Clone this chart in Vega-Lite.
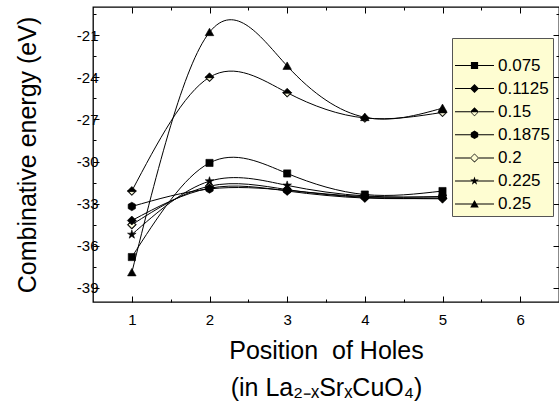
{
  "$schema": "https://vega.github.io/schema/vega-lite/v6.json",
  "width": 466,
  "height": 295,
  "autosize": "none",
  "padding": {"left": 93, "top": 7, "right": 0, "bottom": 105},
  "background": "white",
  "config": {
    "view": {"stroke": "black", "strokeWidth": 1.3},
    "axis": {
      "grid": false,
      "domain": false,
      "tickColor": "black",
      "tickWidth": 1,
      "labelFont": "Liberation Sans",
      "labelFontSize": 15,
      "labelColor": "black",
      "titleFont": "Liberation Sans",
      "titleFontSize": 25,
      "titleFontWeight": "normal",
      "titleColor": "black"
    }
  },
  "data": {
    "values": [
      {"series": "0.075", "pos": 1, "energy": -36.8},
      {"series": "0.075", "pos": 2, "energy": -30.1},
      {"series": "0.075", "pos": 3, "energy": -30.85},
      {"series": "0.075", "pos": 4, "energy": -32.35},
      {"series": "0.075", "pos": 5, "energy": -32.1},
      {"series": "0.1125", "pos": 1, "energy": -34.2},
      {"series": "0.1125", "pos": 2, "energy": -31.9},
      {"series": "0.1125", "pos": 3, "energy": -32.1},
      {"series": "0.1125", "pos": 4, "energy": -32.6},
      {"series": "0.1125", "pos": 5, "energy": -32.6},
      {"series": "0.15", "pos": 1, "energy": -32.1},
      {"series": "0.15", "pos": 2, "energy": -24.0},
      {"series": "0.15", "pos": 3, "energy": -25.1},
      {"series": "0.15", "pos": 4, "energy": -26.9},
      {"series": "0.15", "pos": 5, "energy": -26.5},
      {"series": "0.1875", "pos": 1, "energy": -33.2},
      {"series": "0.1875", "pos": 2, "energy": -31.95},
      {"series": "0.1875", "pos": 3, "energy": -32.05},
      {"series": "0.1875", "pos": 4, "energy": -32.5},
      {"series": "0.1875", "pos": 5, "energy": -32.5},
      {"series": "0.2", "pos": 1, "energy": -34.5},
      {"series": "0.2", "pos": 2, "energy": -31.75},
      {"series": "0.2", "pos": 3, "energy": -32.0},
      {"series": "0.2", "pos": 4, "energy": -32.55},
      {"series": "0.2", "pos": 5, "energy": -32.65},
      {"series": "0.225", "pos": 1, "energy": -35.2},
      {"series": "0.225", "pos": 2, "energy": -31.4},
      {"series": "0.225", "pos": 3, "energy": -31.7},
      {"series": "0.225", "pos": 4, "energy": -32.45},
      {"series": "0.225", "pos": 5, "energy": -32.5},
      {"series": "0.25", "pos": 1, "energy": -37.9},
      {"series": "0.25", "pos": 2, "energy": -20.8},
      {"series": "0.25", "pos": 3, "energy": -23.2},
      {"series": "0.25", "pos": 4, "energy": -26.85},
      {"series": "0.25", "pos": 5, "energy": -26.2}
    ]
  },
  "layer": [
    {
      "mark": {"type": "line", "interpolate": "natural", "color": "black", "strokeWidth": 1},
      "encoding": {
        "x": {
          "field": "pos", "type": "quantitative",
          "scale": {"domain": [0.5, 6.5], "nice": false, "zero": false},
          "axis": {
            "orient": "bottom", "values": [1, 2, 3, 4, 5, 6], "tickSize": -6,
            "labelPadding": 16,
            "title": ["Position\u00a0 of Holes", "(in La₂₋ₓSrₓCuO₄)"],
            "titlePadding": 11, "titleLineHeight": 37
          }
        },
        "y": {
          "field": "energy", "type": "quantitative",
          "scale": {"domain": [-40, -19], "nice": false, "zero": false},
          "axis": {
            "orient": "left", "values": [-21, -24, -27, -30, -33, -36, -39], "tickSize": -6,
            "labelPadding": 1, "labelExpr": "'' + datum.value",
            "title": "Combinative energy (eV)", "titlePadding": 36
          }
        },
        "detail": {"field": "series", "type": "nominal"}
      }
    },
    {
      "transform": [{"filter": "datum.series == '0.15' || datum.series == '0.2'"}],
      "mark": {"type": "point", "filled": true, "fill": "#FFFFE0", "strokeWidth": 0, "opacity": 1, "shape": "M0,-1L1,0L0,1L-1,0Z", "size": 81},
      "encoding": {
        "x": {
          "field": "pos", "type": "quantitative",
          "scale": {"domain": [0.5, 6.5], "nice": false, "zero": false},
          "axis": {"orient": "bottom", "values": [1.5, 2.5, 3.5, 4.5, 5.5], "tickSize": -3, "labels": false, "title": null}
        },
        "y": {
          "field": "energy", "type": "quantitative",
          "scale": {"domain": [-40, -19], "nice": false, "zero": false},
          "axis": {"orient": "left", "values": [-19.5, -22.5, -25.5, -28.5, -31.5, -34.5, -37.5], "tickSize": -3, "labels": false, "title": null}
        }
      }
    },
    {
      "mark": {"type": "point", "filled": true, "color": "black", "stroke": "black", "strokeWidth": 0.6, "opacity": 1, "size": 81},
      "encoding": {
        "x": {
          "field": "pos", "type": "quantitative",
          "scale": {"domain": [0.5, 6.5], "nice": false, "zero": false},
          "axis": {"orient": "top", "values": [1, 2, 3, 4, 5, 6], "tickSize": -6, "labels": false, "title": null}
        },
        "y": {
          "field": "energy", "type": "quantitative",
          "scale": {"domain": [-40, -19], "nice": false, "zero": false},
          "axis": {"orient": "right", "values": [-21, -24, -27, -30, -33, -36, -39], "tickSize": -6, "labels": false, "title": null}
        },
        "shape": {
          "field": "series", "type": "nominal", "legend": null,
          "scale": {
            "domain": ["0.075", "0.1125", "0.15", "0.1875", "0.2", "0.225", "0.25"],
            "range": [
              "M-0.8,-0.8L0.8,-0.8L0.8,0.8L-0.8,0.8Z",
              "M0,-1L1,0L0,1L-1,0Z",
              "M0,-1L1,0L-1,0ZM-1,0L1,0L0,1ZM0.71,0.12L-0.71,0.12L0,0.83Z",
              "M0,-0.95L0.82,-0.475L0.82,0.475L0,0.95L-0.82,0.475L-0.82,-0.475Z",
              "M0,-1L1,0L0,1L-1,0ZM0,-0.79L-0.79,0L0,0.79L0.79,0Z",
              "M0,-1L0.223,-0.307L0.951,-0.309L0.361,0.117L0.588,0.809L0,0.38L-0.588,0.809L-0.361,0.117L-0.951,-0.309L-0.223,-0.307Z",
              "M0,-0.9L0.95,0.75L-0.95,0.75Z"
            ]
          }
        }
      }
    },
    {
      "mark": {"type": "point", "filled": true, "color": "black", "stroke": "black", "strokeWidth": 1, "opacity": 0, "size": 81},
      "encoding": {
        "x": {
          "field": "pos", "type": "quantitative",
          "scale": {"domain": [0.5, 6.5], "nice": false, "zero": false},
          "axis": {"orient": "top", "values": [1.5, 2.5, 3.5, 4.5, 5.5], "tickSize": -3, "labels": false, "title": null}
        },
        "y": {
          "field": "energy", "type": "quantitative",
          "scale": {"domain": [-40, -19], "nice": false, "zero": false},
          "axis": {"orient": "right", "values": [-19.5, -22.5, -25.5, -28.5, -31.5, -34.5, -37.5], "tickSize": -3, "labels": false, "title": null}
        },
        "shape": {
          "field": "series", "type": "nominal",
          "scale": {
            "domain": ["0.075", "0.1125", "0.15", "0.1875", "0.2", "0.225", "0.25"],
            "range": [
              "M-4.33,-0.11L4.33,-0.11L4.33,0.11L-4.33,0.11ZM-0.8,-0.8L0.8,-0.8L0.8,0.8L-0.8,0.8Z",
              "M-4.33,-0.11L4.33,-0.11L4.33,0.11L-4.33,0.11ZM0,-1L1,0L0,1L-1,0Z",
              "M-4.33,-0.11L-1,-0.11L-1,0.11L-4.33,0.11ZM1,-0.11L4.33,-0.11L4.33,0.11L1,0.11ZM0,-1L1,0L-1,0ZM-1,0L1,0L0,1ZM0.71,0.12L-0.71,0.12L0,0.83Z",
              "M-4.33,-0.11L4.33,-0.11L4.33,0.11L-4.33,0.11ZM0,-0.95L0.82,-0.475L0.82,0.475L0,0.95L-0.82,0.475L-0.82,-0.475Z",
              "M-4.33,-0.11L-1,-0.11L-1,0.11L-4.33,0.11ZM1,-0.11L4.33,-0.11L4.33,0.11L1,0.11ZM0,-1L1,0L0,1L-1,0ZM0,-0.79L-0.79,0L0,0.79L0.79,0Z",
              "M-4.33,-0.11L4.33,-0.11L4.33,0.11L-4.33,0.11ZM0,-1L0.223,-0.307L0.951,-0.309L0.361,0.117L0.588,0.809L0,0.38L-0.588,0.809L-0.361,0.117L-0.951,-0.309L-0.223,-0.307Z",
              "M-4.33,-0.11L4.33,-0.11L4.33,0.11L-4.33,0.11ZM0,-0.9L0.95,0.75L-0.95,0.75Z"
            ]
          },
          "legend": {
            "orient": "none", "legendX": 359, "legendY": 31,
            "title": " ", "titleFontSize": 8, "titlePadding": 8,
            "padding": 3, "fillColor": "#FEFDD2", "strokeColor": "#555555", "cornerRadius": 0,
            "labelFont": "Liberation Sans", "labelFontSize": 17, "labelColor": "black",
            "symbolSize": 81, "symbolFillColor": "black", "symbolStrokeColor": "black",
            "symbolStrokeWidth": 0, "symbolOpacity": 1, "symbolOffset": 11, "labelOffset": 15,
            "rowPadding": 5.1
          }
        }
      }
    }
  ],
  "resolve": {
    "axis": {"x": "independent", "y": "independent"},
    "scale": {"shape": "independent"}
  }
}
